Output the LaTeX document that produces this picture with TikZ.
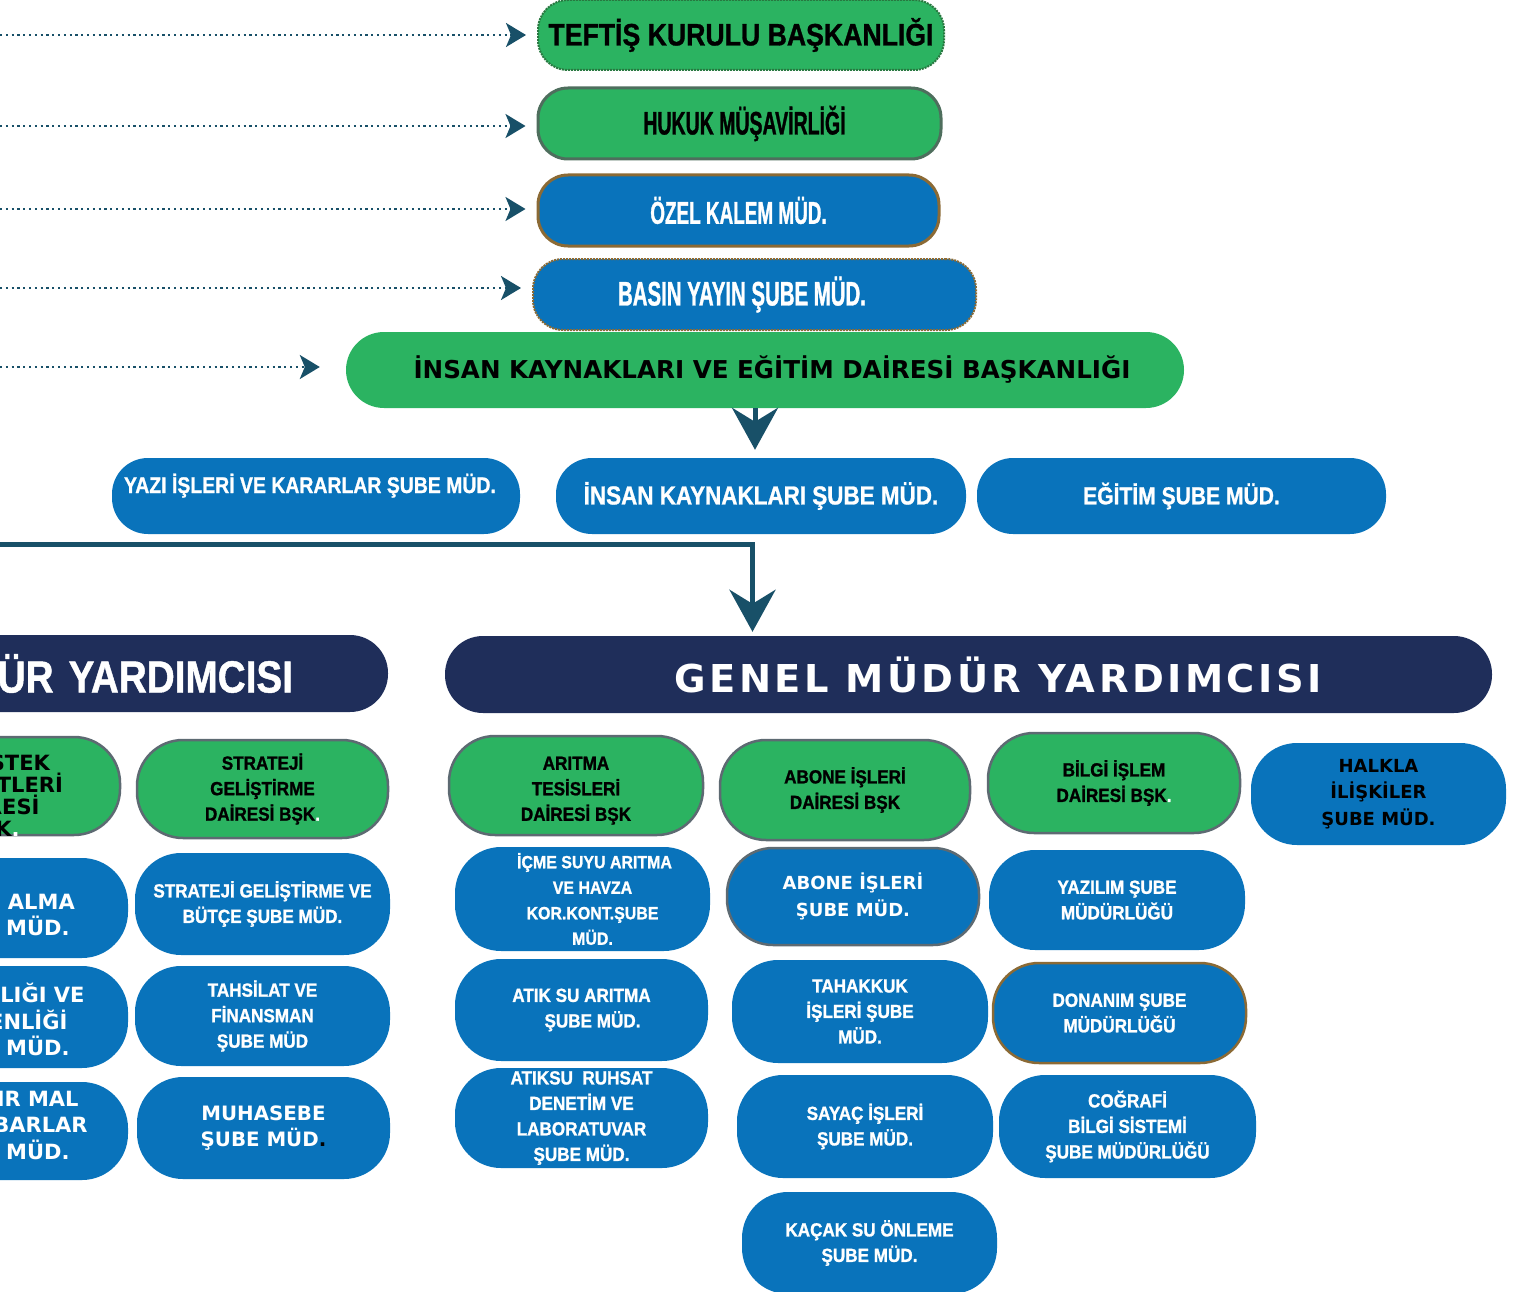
\documentclass[tikz,border=0pt]{standalone}
\usepackage{fontspec}
\usetikzlibrary{arrows.meta,positioning}
\newfontfamily\narrowsans{Liberation Sans}[FakeStretch=0.6,FakeBold=1]
\newfontfamily\semisans{Liberation Sans}[FakeStretch=0.86,FakeBold=1]
\newfontfamily\cellsans{Liberation Sans}[FakeStretch=0.9,FakeBold=1.2]
\newfontfamily\blacksans{DejaVu Sans}
\newfontfamily\spacedsans{DejaVu Sans}[LetterSpace=9]
\definecolor{boxgreen}{RGB}{43,179,97}
\definecolor{boxblue}{RGB}{9,115,187}
\definecolor{navy}{RGB}{31,46,90}
\definecolor{arrowteal}{RGB}{24,80,104}
\definecolor{edgegrey}{RGB}{93,106,114}
\definecolor{hukukedge}{RGB}{78,110,93}
\definecolor{brownedge}{RGB}{139,106,53}
\definecolor{dotgreen}{RGB}{40,120,64}
% first baseline of a text block put #1 above the box centre
\newcommand\toplines[2]{\raisebox{#1}[0pt][0pt]{\parbox[t]{200pt}{\centering #2}}}

\begin{document}
\begin{tikzpicture}
  [x=1pt,y=-1pt,
  % Styles
  boxsize/.style 2 args={minimum width=#1pt,minimum height=#2pt},
  fnarrow/.style={font={\narrowsans\bfseries\fontsize{#1}{25.5}\selectfont}},
  fsemi/.style={font={\semisans\bfseries\fontsize{#1}{25.5}\selectfont}},
  fcell/.style={font={\cellsans\bfseries\fontsize{#1}{25.5}\selectfont}},
  fblack/.style={font={\blacksans\bfseries\fontsize{#1}{26.5}\selectfont}},
  fspaced/.style={font={\spacedsans\bfseries\fontsize{#1}{25.5}\selectfont}},
  pill/.style={rounded corners=46pt,align=center,inner sep=0pt},
  greenbox/.style={pill,fill=boxgreen,draw=edgegrey,line width=2.5pt,text=black,fcell=19},
  bluebox/.style={pill,fill=boxblue,text=white,fcell=19},
  topbox/.style={rounded corners=30pt,align=center,inner sep=0pt},
  midbox/.style={rounded corners=36pt,fill=boxblue,text=white,align=center,inner sep=0pt},
  navybox/.style={rounded corners=38pt,fill=navy,text=white,inner sep=0pt,boxsize={1047}{77}},
  dotline/.style={arrowteal,line width=2.2pt,dash pattern=on 2.2pt off 3.6pt,
    -{Stealth[length=20pt,width=24pt,inset=5pt]}},
  mainline/.style={arrowteal,line width=5pt,-{Stealth[length=42pt,width=46pt,inset=14pt]}}]
  \useasboundingbox (0,0) rectangle (1520,1292);
  \clip (0,0) rectangle (1520,1292);
  % Free ends at the left border
  \coordinate (lin1) at (0,35);
  \coordinate (lin2) at (0,126);
  \coordinate (lin3) at (0,209);
  \coordinate (lin4) at (0,288);
  \coordinate (lin5) at (0,367);
  \coordinate (lin6) at (0,544);
  % Top boxes
  \node[topbox,boxsize={406}{70},fill=boxgreen,draw=dotgreen,line width=2pt,densely dotted,fsemi=31]
    (teftis) at (741,35) {TEFTİŞ KURULU BAŞKANLIĞI};
  \node[topbox,boxsize={403}{71},fill=boxgreen,draw=hukukedge,line width=3pt,fnarrow=32.5]
    (hukuk) at (739.5,123.5) {\hspace*{10pt}HUKUK MÜŞAVİRLİĞİ};
  \node[topbox,boxsize={401}{71},fill=boxblue,draw=brownedge,line width=3pt,text=white,fnarrow=31.5]
    (ozel) at (738.5,210.5) {ÖZEL KALEM MÜD.};
  \node[topbox,boxsize={443}{71},fill=boxblue,draw=brownedge,line width=2pt,densely dotted,text=white,fnarrow=34]
    (basin) at (754.5,294.5) {\hspace*{-25pt}BASIN YAYIN ŞUBE MÜD.};
  \node[topbox,rounded corners=38pt,boxsize={838}{76},fill=boxgreen,fblack=24.6]
    (ikdb) at (765,370) {\hspace*{14pt}İNSAN KAYNAKLARI VE EĞİTİM DAİRESİ BAŞKANLIĞI};
  % Second row
  \node[midbox,boxsize={408}{76},fsemi=22.6] (yazi) at (316,496) {\hspace*{-12pt}\raisebox{3pt}[0pt][0pt]{YAZI İŞLERİ VE KARARLAR ŞUBE MÜD.}};
  \node[midbox,boxsize={410}{76},fsemi=26.1] (iksm) at (761,496) {İNSAN KAYNAKLARI ŞUBE MÜD.};
  \node[midbox,boxsize={409}{76},fsemi=24.5] (egitim) at (1181.5,496) {EĞİTİM ŞUBE MÜD.};
  % Deputy general managers
  \node[navybox,inner xsep=95pt,text width=857pt,align=right,fsemi=45]
    (gmy1) at (-135.5,673.5) {GENEL MÜDÜR YARDIMCISI};
  \node[navybox,fspaced=38.4] (gmy2) at (968.5,674.5) {\hspace*{59pt}GENEL MÜDÜR YARDIMCISI};
  % Clipped column
  \node[greenbox,boxsize={256}{98},fblack=21] (destek) at (-8,786)
    {\toplines{15.4pt}{\fontsize{21}{22}\selectfont\hspace*{24pt}DESTEK\\HİZMETLERİ\\DAİRESİ\\BŞK\textcolor{white}{.}}};
  \node[bluebox,boxsize={250}{100},fblack=21] (satin) at (3,908) {\toplines{-1.1pt}{SATIN ALMA\\ŞUBE MÜD.}};
  \node[bluebox,boxsize={250}{102},fblack=21] (isg) at (3,1017) {\toplines{14.4pt}{İŞ SAĞLIĞI VE\\GÜVENLİĞİ\\ŞUBE MÜD.}};
  \node[bluebox,boxsize={250}{98},fblack=21] (tasinir) at (3,1131) {\toplines{25pt}{TAŞINIR MAL\\VE AMBARLAR\\ŞUBE MÜD.}};
  % Strategy column
  \node[greenbox,boxsize={251}{98}] (sgdb) at (262.5,789) {STRATEJİ\\GELİŞTİRME\\DAİRESİ BŞK\textcolor{white}{.}};
  \node[bluebox,boxsize={255}{102}] (sgbs) at (262.5,904) {STRATEJİ GELİŞTİRME VE\\BÜTÇE ŞUBE MÜD.};
  \node[bluebox,boxsize={255}{100}] (tfsm) at (262.5,1016) {TAHSİLAT VE\\FİNANSMAN\\ŞUBE MÜD};
  \node[bluebox,boxsize={253}{102},fblack=19.8] (muh) at (263.5,1128) {MUHASEBE\\ŞUBE MÜD\textcolor{black}{.}};
  % Treatment column
  \node[greenbox,boxsize={254}{99}] (atdb) at (576,785.5) {\toplines{15.7pt}{ARITMA\\TESİSLERİ\\DAİRESİ BŞK}};
  \node[bluebox,boxsize={255}{104},fcell=17.7] (icme) at (582.5,899) {\hspace*{24pt}İÇME SUYU ARITMA\\\hspace*{20pt}VE HAVZA\\\hspace*{20pt}KOR.KONT.ŞUBE\\\hspace*{20pt}MÜD.};
  \node[bluebox,boxsize={253}{102}] (atik) at (581.5,1010) {ATIK SU ARITMA\\\hspace*{22pt}ŞUBE MÜD.};
  \node[bluebox,boxsize={253}{100}] (ruhsat) at (581.5,1118) {ATIKSU\ \ RUHSAT\\DENETİM VE\\LABORATUVAR\\ŞUBE MÜD.};
  % Subscriber column
  \node[greenbox,boxsize={250}{100}] (abdb) at (845,790) {ABONE İŞLERİ\\DAİRESİ BŞK};
  \node[bluebox,boxsize={252}{97},draw=edgegrey,line width=2.5pt,fblack=18] (absm) at (853,896.5) {ABONE İŞLERİ\\ŞUBE MÜD.};
  \node[bluebox,boxsize={256}{103}] (tahak) at (860,1011.5) {TAHAKKUK\\İŞLERİ ŞUBE\\MÜD.};
  \node[bluebox,boxsize={256}{103}] (sayac) at (865,1126.5) {SAYAÇ İŞLERİ\\ŞUBE MÜD.};
  \node[bluebox,boxsize={255}{102}] (kacak) at (869.5,1243) {KAÇAK SU ÖNLEME\\ŞUBE MÜD.};
  % Information column
  \node[greenbox,boxsize={252}{100}] (bidb) at (1114,783) {BİLGİ İŞLEM\\DAİRESİ BŞK\textcolor{white}{.}};
  \node[bluebox,boxsize={256}{100}] (yazilim) at (1117,900) {YAZILIM ŞUBE\\MÜDÜRLÜĞÜ};
  \node[bluebox,boxsize={253}{100},draw=brownedge,line width=2.5pt] (donanim) at (1119.5,1013) {DONANIM ŞUBE\\MÜDÜRLÜĞÜ};
  \node[bluebox,boxsize={257}{103}] (cbs) at (1127.5,1126.5) {COĞRAFİ\\BİLGİ SİSTEMİ\\ŞUBE MÜDÜRLÜĞÜ};
  \node[bluebox,boxsize={255}{102},text=black,fblack=18] (halkla) at (1378.5,794) {HALKLA\\İLİŞKİLER\\ŞUBE MÜD.};
  % Connectors
  \draw[dotline,shorten >=11pt] (lin1) -- (lin1 -| teftis.west);
  \draw[dotline,shorten >=11pt] (lin2) -- (lin2 -| hukuk.west);
  \draw[dotline,shorten >=11pt] (lin3) -- (lin3 -| ozel.west);
  \draw[dotline,shorten >=11pt] (lin4) -- (lin4 -| basin.west);
  \draw[dotline,shorten >=26pt] (lin5) -- (lin5 -| ikdb.west);
  \draw[mainline,shorten >=8pt] ([xshift=-10pt]ikdb.south) -- ([xshift=-10pt]ikdb.south |- iksm.north);
  \draw[mainline,shorten >=4pt] (lin6) -| ([xshift=-216pt]gmy2.north);
\end{tikzpicture}
\end{document}
